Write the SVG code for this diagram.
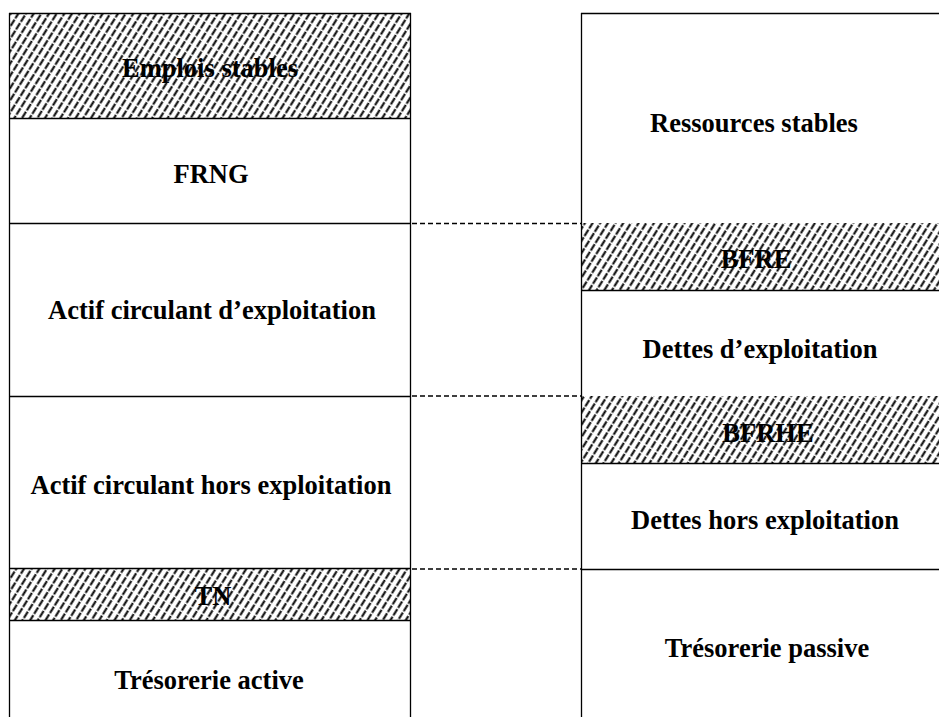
<svg xmlns="http://www.w3.org/2000/svg" width="939" height="717" viewBox="0 0 939 717">
  <style>
    .hatch { fill: url(#diag); stroke: none; }
    .rule { stroke: #000000; stroke-width: 1.3; fill: none; }
    .dash { stroke: #000000; stroke-width: 1.5; stroke-dasharray: 5 3; fill: none; }
    .lbl { font-family: "Liberation Serif", "Times New Roman", serif; font-weight: bold; font-size: 26.5px; fill: #000000; text-anchor: middle; }
  </style>
  <defs>
    <pattern id="diag" patternUnits="userSpaceOnUse" width="6.5" height="9" patternTransform="rotate(32)">
      <rect width="6.5" height="9" fill="#ffffff"/>
      <line x1="3.25" y1="0" x2="3.25" y2="9" stroke="#000000" stroke-width="2" stroke-dasharray="7.5 1.5"/>
    </pattern>
  </defs>

  <rect x="0" y="0" width="939" height="717" fill="#ffffff"/>

  <!-- Left column: uses of funds -->
  <g id="emplois-stables">
    <rect class="hatch" x="9" y="13" width="402" height="105"/>
    <text class="lbl" x="210" y="77">Emplois stables</text>
  </g>
  <g id="frng">
    <text class="lbl" x="211" y="183">FRNG</text>
  </g>
  <g id="actif-exploitation">
    <text class="lbl" x="212" y="319">Actif circulant d’exploitation</text>
  </g>
  <g id="actif-hors-exploitation">
    <text class="lbl" x="211" y="494">Actif circulant hors exploitation</text>
  </g>
  <g id="tn">
    <rect class="hatch" x="9" y="568" width="402" height="52"/>
    <text class="lbl" x="213" y="605">TN</text>
  </g>
  <g id="tresorerie-active">
    <text class="lbl" x="209" y="689">Trésorerie active</text>
  </g>
  <g id="left-frame">
    <path class="rule" d="M9.5 13 V717 M410.5 13 V717 M9 13.5 H411 M9 118.5 H411 M9 223.5 H411 M9 396.5 H411 M9 568.5 H411 M9 620.5 H411"/>
  </g>

  <!-- Right column: sources of funds -->
  <g id="ressources-stables">
    <text class="lbl" x="754" y="132">Ressources stables</text>
  </g>
  <g id="bfre">
    <rect class="hatch" x="581" y="223" width="358" height="67"/>
    <text class="lbl" x="756" y="268">BFRE</text>
  </g>
  <g id="dettes-exploitation">
    <text class="lbl" x="760" y="358">Dettes d’exploitation</text>
  </g>
  <g id="bfrhe">
    <rect class="hatch" x="581" y="396" width="358" height="67"/>
    <text class="lbl" x="768" y="442">BFRHE</text>
  </g>
  <g id="dettes-hors-exploitation">
    <text class="lbl" x="765" y="529">Dettes hors exploitation</text>
  </g>
  <g id="tresorerie-passive">
    <text class="lbl" x="767" y="657">Trésorerie passive</text>
  </g>
  <g id="right-frame">
    <path class="rule" d="M581.5 13 V717 M581 13.5 H939 M581 290.5 H939 M581 463.5 H939 M581 569.5 H939"/>
  </g>

  <!-- Dashed links between matching levels -->
  <g id="connectors">
    <line class="dash" x1="412" y1="223.5" x2="581" y2="223.5"/>
    <line class="dash" x1="412" y1="396" x2="581" y2="396"/>
    <line class="dash" x1="412" y1="569" x2="581" y2="569"/>
  </g>
</svg>
